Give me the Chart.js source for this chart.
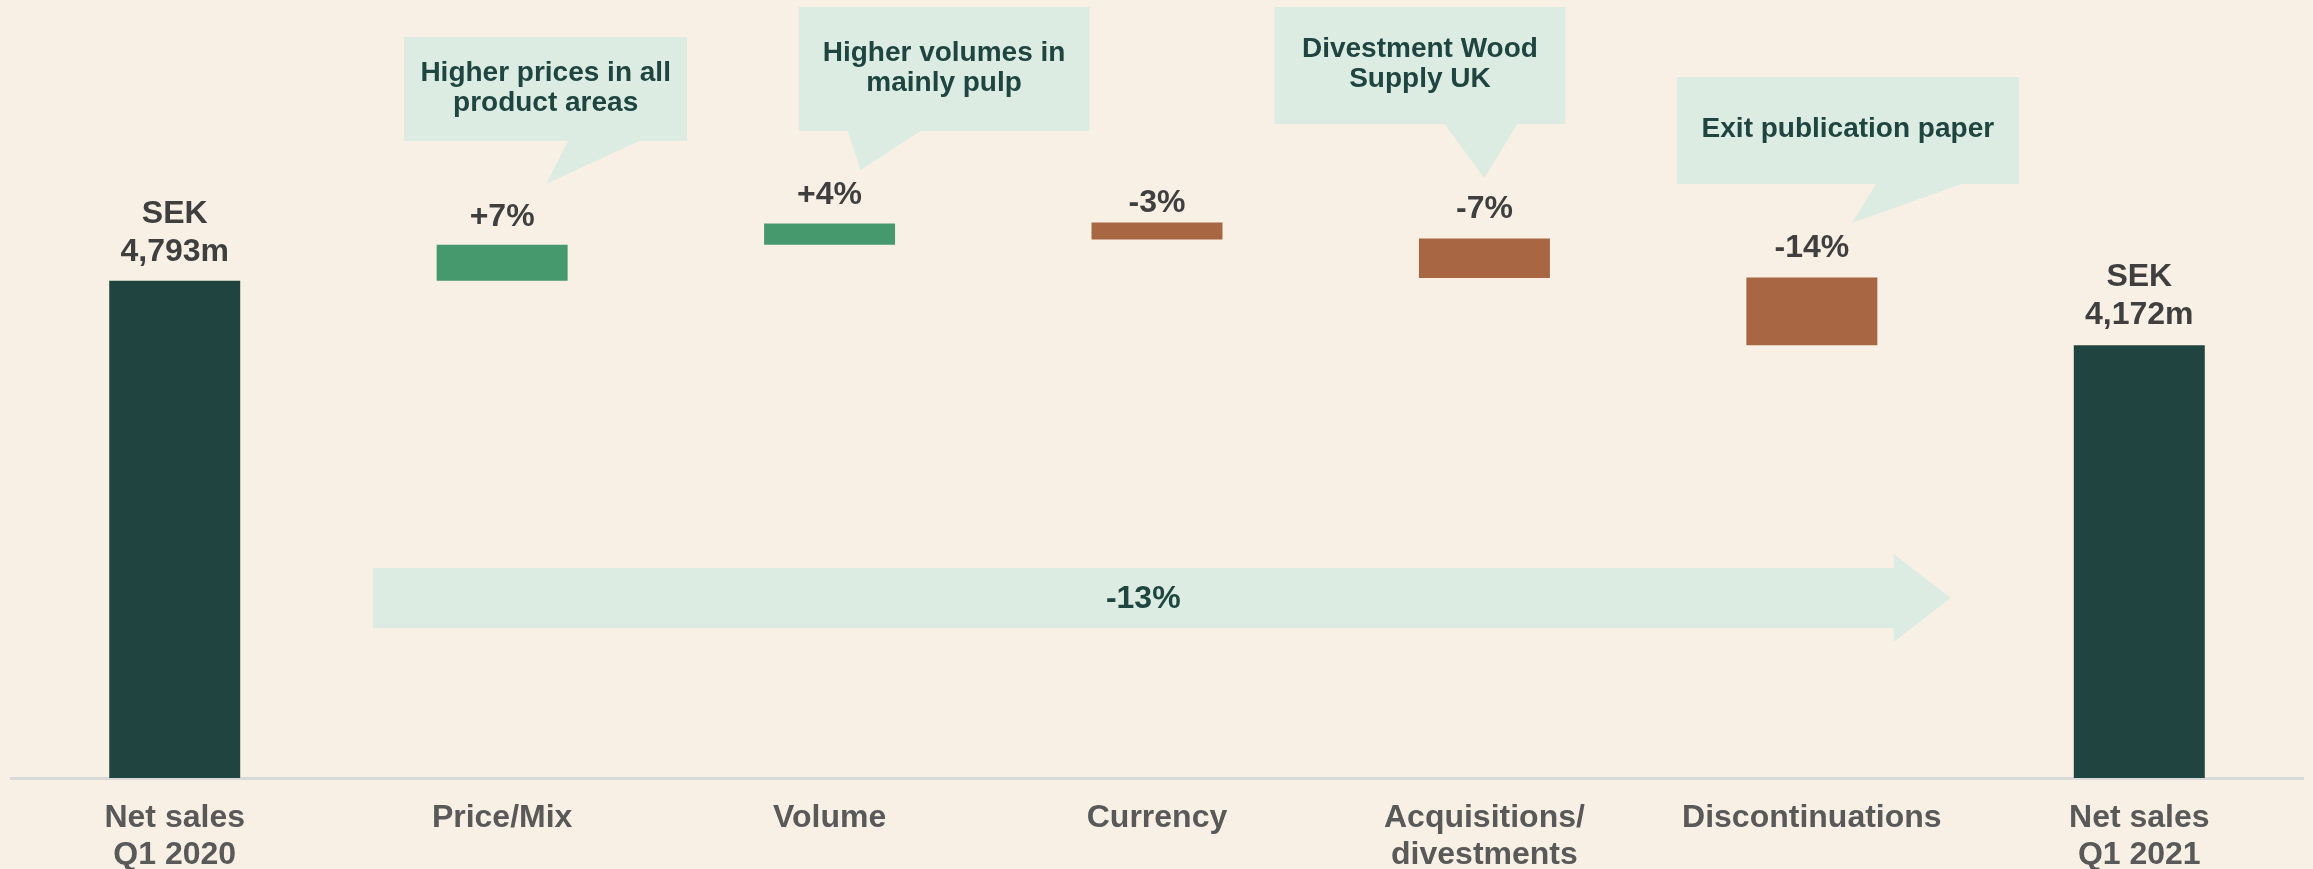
<!DOCTYPE html>
<html lang="en">
<head>
<meta charset="UTF-8">
<title>Net sales bridge Q1 2020 - Q1 2021</title>
<script src="https://cdn.jsdelivr.net/npm/chart.js"></script>
<style>
  html, body { margin: 0; padding: 0; background: #F8F0E4; }
  canvas { display: block; }
</style>
</head>
<body>
<canvas id="bridge" width="2313" height="869"></canvas>
<script>
// categories of the bridge
const categories = [['Net sales', 'Q1 2020'], 'Price/Mix', 'Volume', 'Currency', ['Acquisitions/', 'divestments'], 'Discontinuations', ['Net sales', 'Q1 2021']];
// floating bars, SEK m (bottom and top of each bar)
const barLow  = [0, 4793, 5140, 5190, 4820, 4172, 0];
const barHigh = [4793, 5140, 5345, 5355, 5200, 4825, 4172];
const barKind = ['total', 'up', 'up', 'down', 'down', 'down', 'total'];
const barLabels = [['SEK', '4,793m'], '+7%', '+4%', '-3%', '-7%', '-14%', ['SEK', '4,172m']];
const totalChange = '-13%';
const noteTexts = [
    ['Higher prices in all', 'product areas'],
    ['Higher volumes in', 'mainly pulp'],
    ['Divestment Wood', 'Supply UK'],
    ['Exit publication paper']
];

const FONT = "'Liberation Sans', Arial, Helvetica, sans-serif";
const kindColor = { total: '#20443F', up: '#46996C', down: '#A86642' };

// callout boxes, placed relative to a category centre (px)
const notes = [
    { cat: 1, text: noteTexts[0], left: -98, right: 185, top: 37, bottom: 141, tailL: 66, tailR: 137, tipX: 44, tipY: 184 },
    { cat: 2, text: noteTexts[1], left: -31, right: 260, top: 7, bottom: 131, tailL: 18, tailR: 91, tipX: 31, tipY: 170 },
    { cat: 4, text: noteTexts[2], left: -210, right: 81, top: 7, bottom: 124, tailL: -40, tailR: 33, tipX: 0, tipY: 178 },
    { cat: 5, text: noteTexts[3], left: -135, right: 207, top: 77, bottom: 184, tailL: 64, tailR: 150, tipX: 40, tipY: 223 }
];
const labelGaps = [29, 28, 28, 19, 29, 29, 30];

const bridgeDecor = {
    id: 'bridgeDecor',
    afterDatasetsDraw(chart) {
        const ctx = chart.ctx;
        const x = chart.scales.x, y = chart.scales.y;
        const step = x.getPixelForValue(1) - x.getPixelForValue(0);

        // value labels above bars
        ctx.save();
        ctx.fillStyle = '#3F3F3F';
        ctx.font = 'bold 32px ' + FONT;
        ctx.textAlign = 'center';
        ctx.textBaseline = 'middle';
        chart.getDatasetMeta(0).data.forEach((bar, i) => {
            const lines = [].concat(barLabels[i]);
            const top = Math.min(bar.y, bar.base);
            lines.forEach((t, j) => {
                const yy = top - labelGaps[i] - (lines.length - 1 - j) * 38;
                ctx.fillText(t, bar.x, yy);
            });
        });
        ctx.restore();

        // callouts
        ctx.save();
        notes.forEach(n => {
            const cx = x.getPixelForValue(n.cat);
            ctx.fillStyle = '#DDECE2';
            ctx.beginPath();
            ctx.moveTo(cx + n.left, n.top);
            ctx.lineTo(cx + n.right, n.top);
            ctx.lineTo(cx + n.right, n.bottom);
            ctx.lineTo(cx + n.tailR, n.bottom);
            ctx.lineTo(cx + n.tipX, n.tipY);
            ctx.lineTo(cx + n.tailL, n.bottom);
            ctx.lineTo(cx + n.left, n.bottom);
            ctx.closePath();
            ctx.fill();
            ctx.fillStyle = '#1E4540';
            ctx.font = 'bold 28px ' + FONT;
            ctx.textAlign = 'center';
            ctx.textBaseline = 'middle';
            const mid = (n.top + n.bottom) / 2 - 1;
            const bx = cx + (n.left + n.right) / 2;
            n.text.forEach((t, j) => {
                ctx.fillText(t, bx, mid + (j - (n.text.length - 1) / 2) * 30);
            });
        });
        ctx.restore();

        // total change arrow
        const x0 = x.getPixelForValue(0) + 0.605 * step;
        const xb = x.getPixelForValue(5) + 0.25 * step;
        const xt = x.getPixelForValue(5) + 0.424 * step;
        const ym = y.getPixelForValue(1735);
        ctx.save();
        ctx.fillStyle = '#DDECE2';
        ctx.beginPath();
        ctx.moveTo(x0, ym - 30);
        ctx.lineTo(xb, ym - 30);
        ctx.lineTo(xb, ym - 44);
        ctx.lineTo(xt, ym);
        ctx.lineTo(xb, ym + 44);
        ctx.lineTo(xb, ym + 30);
        ctx.lineTo(x0, ym + 30);
        ctx.closePath();
        ctx.fill();
        ctx.fillStyle = '#1E4540';
        ctx.font = 'bold 32px ' + FONT;
        ctx.textAlign = 'center';
        ctx.textBaseline = 'middle';
        ctx.fillText(totalChange, (x0 + xb) / 2 + 10, ym + 1);
        ctx.restore();
    }
};

new Chart(document.getElementById('bridge'), {
    type: 'bar',
    data: {
        labels: categories,
        datasets: [{
            data: barLow.map((lo, i) => [lo, barHigh[i]]),
            backgroundColor: barKind.map(k => kindColor[k]),
            borderWidth: 0,
            categoryPercentage: 1,
            barPercentage: 0.4
        }]
    },
    options: {
        responsive: false,
        animation: false,
        devicePixelRatio: 1,
        layout: { padding: { left: 11, right: 10, top: 0, bottom: 0 } },
        plugins: { legend: { display: false }, tooltip: { enabled: false } },
        scales: {
            x: {
                grid: { display: false, drawTicks: false },
                border: { display: true, color: '#D9D9D9', width: 3 },
                ticks: {
                    color: '#595959',
                    padding: 22,
                    maxRotation: 0,
                    autoSkip: false,
                    font: { family: FONT, size: 32, weight: 'bold', lineHeight: 1.15 }
                },
                afterFit(axis) { axis.height = 91; }
            },
            y: {
                display: false,
                min: 0,
                max: 7500
            }
        }
    },
    plugins: [bridgeDecor]
});
</script>
</body>
</html>
